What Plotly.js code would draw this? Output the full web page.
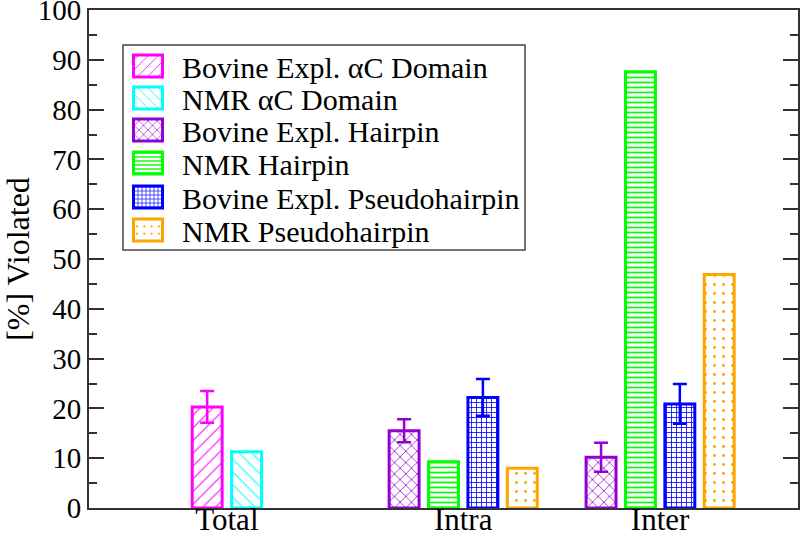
<!DOCTYPE html>
<html>
<head>
<meta charset="utf-8">
<script src="https://cdn.plot.ly/plotly-3.0.1.min.js"></script>
<style>html,body{margin:0;padding:0;background:#fff}#chart{width:800px;height:539px}</style>
</head>
<body>
<div id="chart"></div>
<script>
// ---- data ----
const categories = ['Total', 'Intra', 'Inter'];
const seriesNames = [
  'Bovine Expl. \u03B1C Domain',
  'NMR \u03B1C Domain',
  'Bovine Expl. Hairpin',
  'NMR Hairpin',
  'Bovine Expl. Pseudohairpin',
  'NMR Pseudohairpin'
];
const bovineAlphaC      = [20.3, null, null];
const bovineAlphaCErr   = [3.2, null, null];
const nmrAlphaC         = [11.3, null, null];
const bovineHairpin     = [null, 15.5, 10.2];
const bovineHairpinErr  = [null, 2.3, 2.9];
const nmrHairpin        = [null, 9.3, 87.6];
const bovinePseudo      = [null, 22.2, 20.9];
const bovinePseudoErr   = [null, 3.7, 4.0];
const nmrPseudo         = [null, 8.0, 46.9];

const seriesValues = [bovineAlphaC, nmrAlphaC, bovineHairpin, nmrHairpin, bovinePseudo, nmrPseudo];
const seriesErrors = [bovineAlphaCErr, null, bovineHairpinErr, null, bovinePseudoErr, null];

// ---- styles ----
const colors = ['#ff00ff', '#00ffff', '#9400d3', '#00ff00', '#0000ff', '#ffa500'];
const patterns = ['/', '\\', 'x', '-', '+', '.'];
const patSizes = [9, 9, 8, 5, 5, 9];
const patSolid = [0.12, 0.12, 0.18, 0.35, 0.3, 0.08];
const FONT = 'Liberation Serif';

// layout geometry (pixels)
const W = 800, H = 539;
const M = {l: 89, r: 2, t: 10, b: 31};
const plotW = W - M.l - M.r, plotH = H - M.t - M.b;
const px2x = X => (X - M.l) / plotW;
const px2y = Y => (H - M.b - Y) / plotH;

// slot positions within groups: each category occupies 5 slots
const groupStride = 5;
function slotOf(si, ci) {
  let rank = 0;
  for (let k = 0; k < si; k++) if (seriesValues[k][ci] != null) rank++;
  return groupStride * ci + rank;
}
function centerOf(ci) {
  const n = seriesValues.filter(s => s[ci] != null).length;
  return groupStride * ci + (n - 1) / 2;
}

const traces = seriesValues.map((vals, si) => {
  const xs = [], ys = [], es = [];
  vals.forEach((v, ci) => {
    if (v == null) return;
    xs.push(slotOf(si, ci));
    ys.push(v);
    if (seriesErrors[si]) es.push(seriesErrors[si][ci]);
  });
  const t = {
    type: 'bar',
    name: seriesNames[si],
    x: xs, y: ys,
    width: 0.76,
    legend: si === 0 ? 'legend' : 'legend' + (si + 1),
    marker: {
      color: 'white',
      line: {color: colors[si], width: 3},
      pattern: {shape: patterns[si], fgcolor: colors[si], bgcolor: 'white',
                size: patSizes[si], solidity: patSolid[si], fillmode: 'replace'}
    },
    hoverinfo: 'skip'
  };
  if (seriesErrors[si]) {
    t.error_y = {type: 'data', array: es, visible: true, color: colors[si], thickness: 2.5, width: 7};
  }
  return t;
});

const legendTops = [66, 98, 130, 163, 197, 230];
const layout = {
  width: W, height: H,
  margin: M,
  paper_bgcolor: 'white', plot_bgcolor: 'white',
  barmode: 'overlay',
  font: {family: FONT, color: 'black'},
  xaxis: {
    range: [-3, 15],
    tickvals: categories.map((c, i) => centerOf(i)),
    ticktext: categories,
    ticks: '',
    ticklabeloverflow: 'allow',
    ticklabelstandoff: -17,
    showgrid: false, zeroline: false,
    showline: true, mirror: true, linecolor: '#333', linewidth: 2,
    tickfont: {size: 31, family: FONT, color: 'black'}
  },
  yaxis: {
    range: [0, 100],
    dtick: 10,
    ticks: 'inside', ticklen: 15, tickwidth: 2, tickcolor: '#333',
    ticklabeloverflow: 'allow',
    minor: {dtick: 5, ticks: 'inside', ticklen: 8, tickwidth: 2, tickcolor: '#333'},
    showgrid: false, zeroline: false,
    showline: true, mirror: 'ticks', linecolor: '#333', linewidth: 2,
    tickfont: {size: 29, family: FONT, color: 'black'},
    title: {text: '[%] Violated', font: {size: 32, family: FONT, color: 'black'}, standoff: 10}
  },
  shapes: [{
    type: 'rect', xref: 'paper', yref: 'paper',
    x0: px2x(123), x1: px2x(525), y0: px2y(250), y1: px2y(45),
    line: {color: '#444', width: 1.5}, fillcolor: 'rgba(0,0,0,0)'
  }],
  showlegend: true
};
legendTops.forEach((yc, i) => {
  const key = i === 0 ? 'legend' : 'legend' + (i + 1);
  layout[key] = {
    x: px2x(114), y: px2y(yc), xanchor: 'left', yanchor: 'middle',
    bgcolor: 'rgba(0,0,0,0)', borderwidth: 0,
    itemwidth: 58,
    font: {size: 30, family: FONT, color: 'black'}
  };
});

Plotly.newPlot('chart', traces, layout, {staticPlot: true, displayModeBar: false}).then(gd => {
  // enlarge legend swatches to match the reference
  document.querySelectorAll('.legendpoints path').forEach(p => {
    p.setAttribute('d', 'M14.5,11H-14.5V-11H14.5Z');
  });
});
</script>
</body>
</html>
